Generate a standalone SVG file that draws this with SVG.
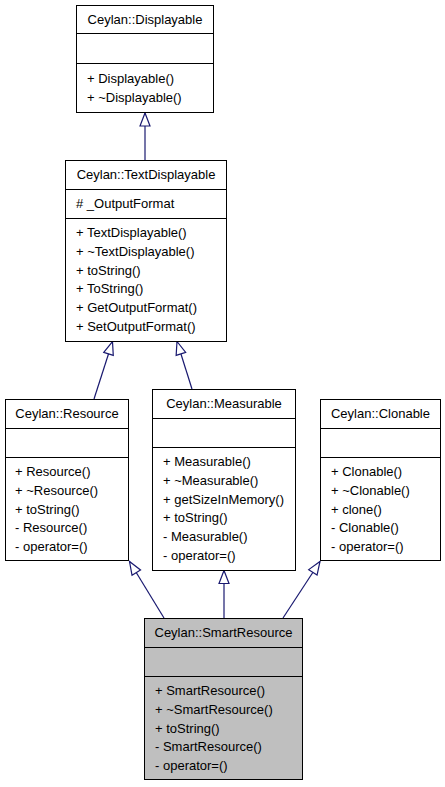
<svg xmlns="http://www.w3.org/2000/svg" width="445" height="787" viewBox="0 0 445 787">
<style>
  text { font-family: "Liberation Sans", Arial, Helvetica, sans-serif; font-size: 13px; fill: #000; }
  .t { text-anchor: middle; }
  .box { fill: #fff; stroke: #000; stroke-width: 1; }
  .cur { fill: #bfbfbf; stroke: #000; stroke-width: 1; }
  .div { stroke: #000; stroke-width: 1; }
  .edge { fill: none; stroke: #191970; stroke-width: 1.2; }
</style>
<defs>
  <marker id="inh" viewBox="0 0 13 10" refX="13" refY="5" markerWidth="13" markerHeight="10" markerUnits="userSpaceOnUse" orient="auto" overflow="visible">
    <path d="M0,0 L13,5 L0,10 Z" fill="#fff" stroke="#191970" stroke-width="1.2"/>
  </marker>
</defs>
<rect width="445" height="787" fill="#fff"/>

<g id="connectors">
  <path class="edge" d="M145,160 L145,113" marker-end="url(#inh)"/>
  <path class="edge" d="M94,399 L112.5,341.5" marker-end="url(#inh)"/>
  <path class="edge" d="M192,389 L177,341.5" marker-end="url(#inh)"/>
  <path class="edge" d="M164,618 L129.5,561.5" marker-end="url(#inh)"/>
  <path class="edge" d="M224,618 L224,570.5" marker-end="url(#inh)"/>
  <path class="edge" d="M283,618 L320,561.5" marker-end="url(#inh)"/>
</g>

<g id="Displayable">
  <rect class="box" x="76.5" y="5.5" width="137" height="107"/>
  <line class="div" x1="76.5" y1="33.5" x2="213.5" y2="33.5"/>
  <line class="div" x1="76.5" y1="63.5" x2="213.5" y2="63.5"/>
  <text class="t" x="145" y="24">Ceylan::Displayable</text>
  <text x="87" y="83">+ Displayable()</text>
  <text x="87" y="101.5">+ ~Displayable()</text>
</g>

<g id="TextDisplayable">
  <rect class="box" x="65.5" y="160.5" width="161" height="181"/>
  <line class="div" x1="65.5" y1="189.5" x2="226.5" y2="189.5"/>
  <line class="div" x1="65.5" y1="218.5" x2="226.5" y2="218.5"/>
  <text class="t" x="146" y="178.5">Ceylan::TextDisplayable</text>
  <text x="76" y="207.5"># _OutputFormat</text>
  <text x="76" y="237">+ TextDisplayable()</text>
  <text x="76" y="255.8">+ ~TextDisplayable()</text>
  <text x="76" y="274.6">+ toString()</text>
  <text x="76" y="293.4">+ ToString()</text>
  <text x="76" y="312.2">+ GetOutputFormat()</text>
  <text x="76" y="331">+ SetOutputFormat()</text>
</g>

<g id="Resource">
  <rect class="box" x="5.5" y="399.5" width="123" height="161"/>
  <line class="div" x1="5.5" y1="428.5" x2="128.5" y2="428.5"/>
  <line class="div" x1="5.5" y1="457.5" x2="128.5" y2="457.5"/>
  <text class="t" x="67" y="417.5">Ceylan::Resource</text>
  <text x="15" y="476">+ Resource()</text>
  <text x="15" y="494.8">+ ~Resource()</text>
  <text x="15" y="513.6">+ toString()</text>
  <text x="15" y="532.4">- Resource()</text>
  <text x="15" y="551.2">- operator=()</text>
</g>

<g id="Measurable">
  <rect class="box" x="152.5" y="389.5" width="143" height="181"/>
  <line class="div" x1="152.5" y1="418.5" x2="295.5" y2="418.5"/>
  <line class="div" x1="152.5" y1="447.5" x2="295.5" y2="447.5"/>
  <text class="t" x="224" y="407.5">Ceylan::Measurable</text>
  <text x="163" y="466">+ Measurable()</text>
  <text x="163" y="484.8">+ ~Measurable()</text>
  <text x="163" y="503.6">+ getSizeInMemory()</text>
  <text x="163" y="522.4">+ toString()</text>
  <text x="163" y="541.2">- Measurable()</text>
  <text x="163" y="560">- operator=()</text>
</g>

<g id="Clonable">
  <rect class="box" x="320.5" y="399.5" width="120" height="161"/>
  <line class="div" x1="320.5" y1="428.5" x2="440.5" y2="428.5"/>
  <line class="div" x1="320.5" y1="457.5" x2="440.5" y2="457.5"/>
  <text class="t" x="380.5" y="417.5">Ceylan::Clonable</text>
  <text x="331" y="476">+ Clonable()</text>
  <text x="331" y="494.8">+ ~Clonable()</text>
  <text x="331" y="513.6">+ clone()</text>
  <text x="331" y="532.4">- Clonable()</text>
  <text x="331" y="551.2">- operator=()</text>
</g>

<g id="SmartResource">
  <rect class="cur" x="144.5" y="618.5" width="158" height="161"/>
  <line class="div" x1="144.5" y1="647.5" x2="302.5" y2="647.5"/>
  <line class="div" x1="144.5" y1="676.5" x2="302.5" y2="676.5"/>
  <text class="t" x="223.5" y="636.5">Ceylan::SmartResource</text>
  <text x="155" y="695">+ SmartResource()</text>
  <text x="155" y="713.8">+ ~SmartResource()</text>
  <text x="155" y="732.6">+ toString()</text>
  <text x="155" y="751.4">- SmartResource()</text>
  <text x="155" y="770.2">- operator=()</text>
</g>
</svg>
